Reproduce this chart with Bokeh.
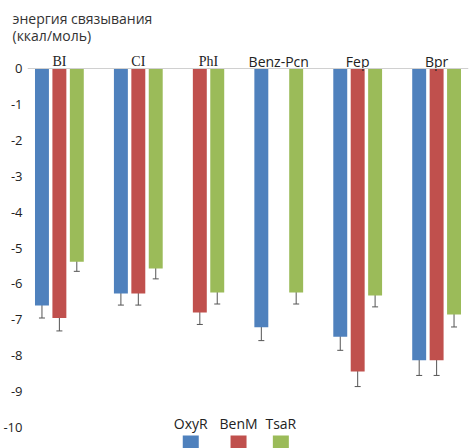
from bokeh.core.properties import value
from bokeh.embed import file_html
from bokeh.models import (ColumnDataSource, FixedTicker, Range1d, Span,
                          TeeHead, Title, Whisker)
from bokeh.plotting import figure
from bokeh.resources import INLINE

# Binding energies (kcal/mol) of each ligand docked to each regulator
ligands = ["BI", "CI", "PhI", "Benz-Pcn", "Fep", "Bpr"]
proteins = ["OxyR", "BenM", "TsaR"]
oxyr = [-6.6, -6.27, None, -7.21, -7.47, -8.13]
benm = [-6.95, -6.27, -6.8, None, -8.44, -8.13]
tsar = [-5.38, -5.57, -6.24, -6.24, -6.32, -6.85]
oxyr_err = [0.35, 0.32, None, 0.37, 0.38, 0.42]
benm_err = [0.36, 0.32, 0.33, None, 0.42, 0.42]
tsar_err = [0.27, 0.29, 0.32, 0.32, 0.32, 0.35]
y_ticks = [0, -1, -2, -3, -4, -5, -6, -7, -8, -9, -10]
title_lines = ["энергия связывания", "(ккал/моль)"]

colors = ["#4F81BD", "#C0504D", "#9BBB59"]
# PhI has no OxyR slot at all; Benz-Pcn keeps an empty BenM slot
no_slot = {("PhI", "OxyR")}

W, H = 469, 448
TOP = 47             # border above the plot area, holds the axis title
LEFT, RIGHT = 25, 1
PX_PER_UNIT = 35.9
ZERO_PX = 68         # zero line, measured from the top of the page
GROUP_GAP = 1.53     # extra space between ligand groups, in bar slots
EDGE_PAD = 0.33      # space before the first and after the last slot
BAR_WIDTH = 0.8

values = [oxyr, benm, tsar]
errors = [oxyr_err, benm_err, tsar_err]

# lay out bar slots group by group
xs, tops, fills = [], [], []
wx, wlo, whi = [], [], []
group_x = []
cursor = 0.0
for i, lig in enumerate(ligands):
    slots = []
    for name, vals, errs, col in zip(proteins, values, errors, colors):
        if (lig, name) in no_slot:
            continue
        slots.append(cursor)
        v = vals[i]
        if v is not None:
            xs.append(cursor)
            tops.append(v)
            fills.append(col)
            wx.append(cursor)
            wlo.append(v - errs[i])
            whi.append(v + errs[i])
        cursor += 1.0
    group_x.append(sum(slots) / len(slots))
    cursor += GROUP_GAP
last_slot = cursor - GROUP_GAP - 1.0

bars = ColumnDataSource(dict(x=xs, top=tops, color=fills))
errs_src = ColumnDataSource(dict(x=wx, lower=wlo, upper=whi))


def px_to_y(px):
    """Page pixel row -> energy value on the plot."""
    return -(px - ZERO_PX) / PX_PER_UNIT


p = figure(
    width=W, height=H,
    x_range=Range1d(-0.5 - EDGE_PAD, last_slot + 0.5 + EDGE_PAD),
    y_range=Range1d(px_to_y(H), px_to_y(TOP)),
    x_axis_location=None,
    output_backend="svg", toolbar_location=None,
    min_border_left=LEFT, min_border_right=RIGHT,
    min_border_top=TOP, min_border_bottom=0,
)
p.outline_line_color = None
p.xgrid.grid_line_color = None
p.ygrid.grid_line_color = None

p.title = Title(text="\n".join(title_lines), align="left", offset=10 - LEFT,
                standoff=5, text_font="Open Sans", text_font_size="14px",
                text_font_style="normal", text_color="#333333",
                text_line_height=0.9)

# a pixel-like horizontal range for the legend placement
p.extra_x_ranges = {"px": Range1d(0, W - LEFT - RIGHT)}

ax = p.yaxis[0]
ax.ticker = FixedTicker(ticks=y_ticks)
ax.major_label_overrides = {t: str(t) for t in y_ticks}
ax.axis_line_color = None
ax.major_tick_line_color = None
ax.minor_tick_line_color = None
ax.major_tick_out = 0
ax.minor_tick_out = 0
ax.major_label_standoff = 5
ax.major_label_text_font = "Open Sans"
ax.major_label_text_font_size = "13px"
ax.major_label_text_color = "#222222"

p.add_layout(Span(location=0, dimension="width", line_color="#d0d0d0", line_width=1))

p.vbar(x="x", top="top", bottom=0, width=BAR_WIDTH, source=bars,
       fill_color="color", line_color=None)

cap = dict(size=6, line_color="#555555", line_width=1)
p.add_layout(Whisker(base="x", lower="lower", upper="upper", source=errs_src,
                     line_color="#555555", line_width=1,
                     upper_head=TeeHead(**cap), lower_head=TeeHead(**cap)))

# ligand names above the zero line
lab_fonts = ["Liberation Serif" if len(s) <= 3 and s.endswith("I") else "Open Sans"
             for s in ligands]
lab_src = ColumnDataSource(dict(x=group_x, y=[0] * len(ligands), text=ligands,
                                font=lab_fonts))
p.text(x="x", y="y", text="text", source=lab_src, text_font="font",
       text_font_size="14px", text_color="#222222", text_align="center",
       text_baseline="alphabetic", y_offset=-7)

# legend: name above a colour swatch
leg_x = [164, 212, 254.5]
leg_src = ColumnDataSource(dict(x=leg_x, text=proteins, color=colors))
p.text(x="x", y=px_to_y(423), text="text", source=leg_src,
       x_range_name="px", text_font=value("Open Sans"), text_font_size="14px",
       text_color="#222222", text_align="center", text_baseline="middle")
p.rect(x="x", y=px_to_y(443), width=16, height=16,
       width_units="screen", height_units="screen", source=leg_src,
       x_range_name="px", fill_color="color", line_color=None)

with open("out.html", "w") as f:
    f.write(file_html(p, INLINE))
